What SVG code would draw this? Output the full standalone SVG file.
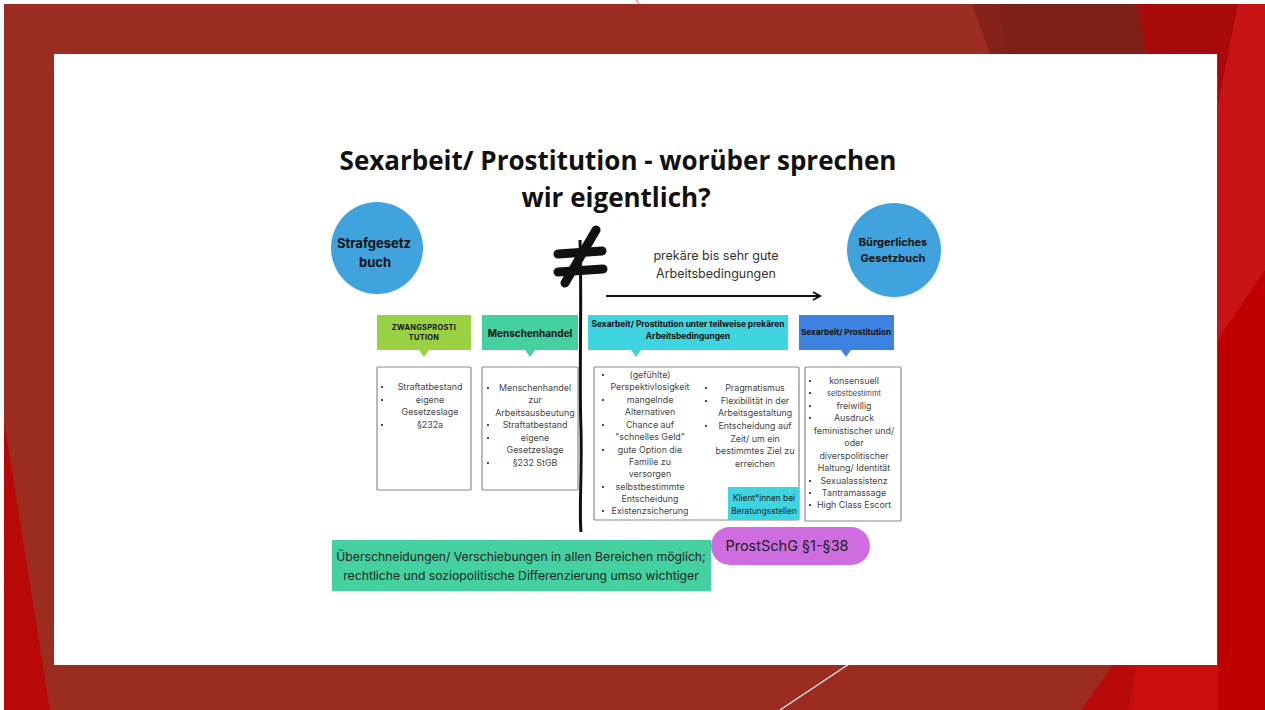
<svg xmlns="http://www.w3.org/2000/svg" width="1265" height="710" viewBox="0 0 1265 710">
<defs>
<style>
.t{font-family:"Inter","Liberation Sans",sans-serif;fill:#454545;font-size:8.9px;text-anchor:middle}
.b{font-family:"Inter","Liberation Sans",sans-serif;fill:#111;font-weight:700;text-anchor:middle}
.box{fill:#fff;stroke:#8a8a8a;stroke-width:1.2}
.dot{fill:#222}
</style>
<marker id="ah" viewBox="0 0 10 10" refX="8" refY="5" markerWidth="5" markerHeight="5" orient="auto"><path d="M1,1 L8,5 L1,9" fill="none" stroke="#111" stroke-width="2"/></marker>
</defs>
<rect width="1265" height="710" fill="#fff"/>
<g id="background">
<rect x="4" y="4" width="1261" height="706" fill="#9c2c1f"/>
<polygon points="972,4 1140,4 1148,54 990,54" fill="#842219"/>
<polygon points="1000,4 1140,4 1148,54 1006,54" fill="#7f2018"/>
<polygon points="1138,4 1265,4 1265,60 1218,105 1218,54 1146,54" fill="#a80a0a"/>
<polygon points="1238,4 1265,4 1265,710 1218,710 1218,105" fill="#c81414"/>
<polygon points="1265,270 1265,710 1218,710 1218,340" fill="#c00000"/>
<polygon points="1113,665 1218,665 1218,710 1081,710" fill="#b80a0a"/>
<polygon points="1137,665 1218,665 1218,710 1128,710" fill="#c80e0e"/>
<polygon points="4,421 4,710 50,710" fill="#b80808"/>
<line x1="849" y1="664" x2="780" y2="710" stroke="#fff" stroke-width="1.2"/>
<line x1="636" y1="0" x2="640" y2="5" stroke="#c03030" stroke-width="0.8"/>
<rect x="54" y="54" width="1163" height="611" fill="#fff"/>
</g>
<g id="title" font-family="'Open Sans','Noto Sans',sans-serif" font-weight="700" font-size="26" fill="#111" text-anchor="middle">
<text x="618" y="170">Sexarbeit/ Prostitution - worüber sprechen</text>
<text x="616" y="207">wir eigentlich?</text>
</g>
<g id="strafgesetzbuch">
<circle cx="377" cy="248" r="46" fill="#40a3de"/>
<text class="b" style="font-size:13px" x="374" y="248">Strafgesetz</text>
<text class="b" style="font-size:13px" x="375" y="267">buch</text>
</g>
<g id="bgb">
<circle cx="894" cy="250" r="47" fill="#40a3de"/>
<text class="b" style="font-size:11px" x="893" y="246">Bürgerliches</text>
<text class="b" style="font-size:11px" x="893" y="262">Gesetzbuch</text>
</g>
<g id="connectors">
<path d="M580,240 C582,300 579,380 581,430 C582,480 579,510 581,532" fill="none" stroke="#111" stroke-width="3"/>
<line x1="558" y1="254" x2="602" y2="251" stroke="#111" stroke-width="9" stroke-linecap="round"/>
<line x1="558" y1="272" x2="603" y2="269" stroke="#111" stroke-width="9" stroke-linecap="round"/>
<line x1="565" y1="283" x2="596" y2="230" stroke="#111" stroke-width="9" stroke-linecap="round"/>
<line x1="606" y1="296" x2="820" y2="296" stroke="#111" stroke-width="2" marker-end="url(#ah)"/>
<text class="t" style="font-size:12.5px;fill:#333" x="716" y="260">prekäre bis sehr gute</text>
<text class="t" style="font-size:12.5px;fill:#333" x="716" y="278">Arbeitsbedingungen</text>
</g>
<g id="zwang-head">
<rect x="377" y="315" width="94" height="35" fill="#9ad143"/>
<polygon points="419,350 429,350 424,357" fill="#9ad143"/>
<text class="b" style="font-size:7.4px;letter-spacing:0.3px" x="424" y="330">ZWANGSPROSTI</text>
<text class="b" style="font-size:7.4px;letter-spacing:0.3px" x="424" y="340">TUTION</text>
</g>
<g id="mensch-head">
<rect x="482" y="315" width="96" height="35" fill="#45d0a0"/>
<polygon points="525,350 535,350 530,357" fill="#45d0a0"/>
<text class="b" style="font-size:10px" x="530" y="337">Menschenhandel</text>
</g>
<g id="prekaer-head">
<rect x="588" y="315" width="200" height="35" fill="#3fd5e0"/>
<polygon points="631,350 641,350 636,357" fill="#3fd5e0"/>
<text class="b" style="font-size:8.4px" x="688" y="327">Sexarbeit/ Prostitution unter teilweise prekären</text>
<text class="b" style="font-size:8.4px" x="688" y="339">Arbeitsbedingungen</text>
</g>
<g id="sex-head">
<rect x="799" y="315" width="95" height="35" fill="#3d82e0"/>
<polygon points="841,350 851,350 846,357" fill="#3d82e0"/>
<text class="b" style="font-size:8.2px" x="846" y="335">Sexarbeit/ Prostitution</text>
</g>
<g id="zwang-box">
<rect class="box" x="377" y="367" width="94" height="123" rx="1"/>
<circle class="dot" cx="382" cy="387" r="1.1"/><circle class="dot" cx="382" cy="400" r="1.1"/><circle class="dot" cx="382" cy="425" r="1.1"/>
<text class="t" x="430" y="390">Straftatbestand</text>
<text class="t" x="430" y="403">eigene</text>
<text class="t" x="430" y="415">Gesetzeslage</text>
<text class="t" x="430" y="428">§232a</text>
</g>
<g id="mensch-box">
<rect class="box" x="482" y="367" width="96" height="123" rx="1"/>
<circle class="dot" cx="488" cy="388" r="1.1"/><circle class="dot" cx="488" cy="425" r="1.1"/><circle class="dot" cx="488" cy="438" r="1.1"/><circle class="dot" cx="488" cy="463" r="1.1"/>
<text class="t" x="535" y="391">Menschenhandel</text>
<text class="t" x="535" y="403">zur</text>
<text class="t" x="535" y="416">Arbeitsausbeutung</text>
<text class="t" x="535" y="428">Straftatbestand</text>
<text class="t" x="535" y="441">eigene</text>
<text class="t" x="535" y="453">Gesetzeslage</text>
<text class="t" x="535" y="466">§232 StGB</text>
</g>
<g id="prekaer-box">
<rect class="box" x="594" y="367" width="205" height="153" rx="1"/>
<circle class="dot" cx="603" cy="375" r="1.1"/><circle class="dot" cx="603" cy="400" r="1.1"/><circle class="dot" cx="603" cy="425" r="1.1"/><circle class="dot" cx="603" cy="450" r="1.1"/><circle class="dot" cx="603" cy="487" r="1.1"/><circle class="dot" cx="603" cy="511" r="1.1"/>
<text class="t" x="650" y="378">(gefühlte)</text>
<text class="t" x="650" y="390">Perspektivlosigkeit</text>
<text class="t" x="650" y="403">mangelnde</text>
<text class="t" x="650" y="415">Alternativen</text>
<text class="t" x="650" y="428">Chance auf</text>
<text class="t" x="650" y="440">"schnelles Geld"</text>
<text class="t" x="650" y="453">gute Option die</text>
<text class="t" x="650" y="465">Familie zu</text>
<text class="t" x="650" y="477">versorgen</text>
<text class="t" x="650" y="490">selbstbestimmte</text>
<text class="t" x="650" y="502">Entscheidung</text>
<text class="t" x="650" y="514">Existenzsicherung</text>
<circle class="dot" cx="706" cy="388" r="1.1"/><circle class="dot" cx="706" cy="401" r="1.1"/><circle class="dot" cx="706" cy="426" r="1.1"/>
<text class="t" x="755" y="391">Pragmatismus</text>
<text class="t" x="755" y="404">Flexibilität in der</text>
<text class="t" x="755" y="416">Arbeitsgestaltung</text>
<text class="t" x="755" y="429">Entscheidung auf</text>
<text class="t" x="755" y="442">Zeit/ um ein</text>
<text class="t" x="755" y="454">bestimmtes Ziel zu</text>
<text class="t" x="755" y="467">erreichen</text>
</g>
<g id="klient">
<rect x="728" y="487" width="71" height="33" fill="#3fd5e0"/>
<text class="t" style="font-size:8.3px;fill:#222" x="764" y="501">Klient*innen bei</text>
<text class="t" style="font-size:8.3px;fill:#222" x="764" y="514">Beratungsstellen</text>
</g>
<g id="sex-box">
<rect class="box" x="805" y="367" width="96" height="154" rx="1"/>
<circle class="dot" cx="810" cy="381" r="1.1"/><circle class="dot" cx="810" cy="393" r="1.1"/><circle class="dot" cx="810" cy="406" r="1.1"/><circle class="dot" cx="810" cy="418" r="1.1"/><circle class="dot" cx="810" cy="481" r="1.1"/><circle class="dot" cx="810" cy="493" r="1.1"/><circle class="dot" cx="810" cy="505" r="1.1"/>
<text class="t" x="854" y="384">konsensuell</text>
<text class="t" style="font-size:7.5px" x="854" y="396">selbstbestimmt</text>
<text class="t" x="854" y="409">freiwillig</text>
<text class="t" x="854" y="421">Ausdruck</text>
<text class="t" x="854" y="434">feministischer und/</text>
<text class="t" x="854" y="446">oder</text>
<text class="t" x="854" y="459">diverspolitischer</text>
<text class="t" x="854" y="471">Haltung/ Identität</text>
<text class="t" x="854" y="484">Sexualassistenz</text>
<text class="t" x="854" y="496">Tantramassage</text>
<text class="t" x="854" y="508">High Class Escort</text>
</g>
<g id="ueberschneidungen">
<rect x="332" y="540" width="379" height="51" fill="#45d0a0"/>
<text class="t" style="font-size:12.2px;fill:#222" x="521" y="561">Überschneidungen/ Verschiebungen in allen Bereichen möglich;</text>
<text class="t" style="font-size:12.2px;fill:#222" x="521" y="580">rechtliche und soziopolitische Differenzierung umso wichtiger</text>
</g>
<g id="prostschg">
<rect x="711" y="527" width="159" height="38" rx="19" fill="#ce6ce0"/>
<text class="t" style="font-size:14.5px;fill:#222" x="787" y="551">ProstSchG §1-§38</text>
</g>
</svg>
